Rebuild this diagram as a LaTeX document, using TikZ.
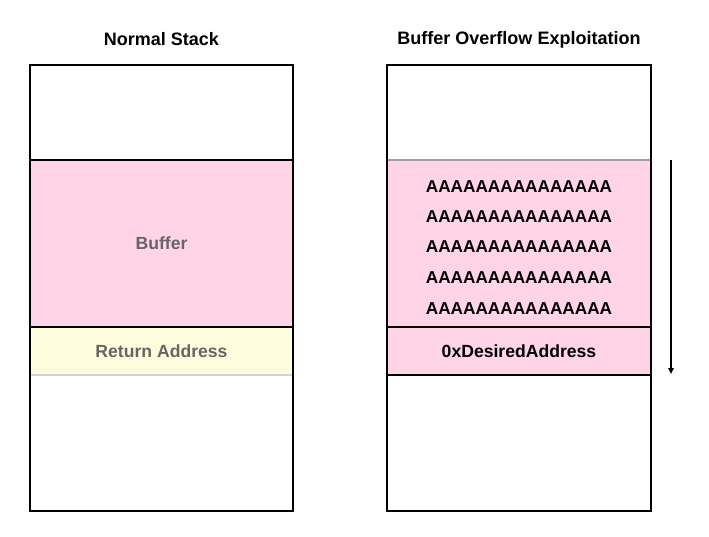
\documentclass[tikz,border=0pt]{standalone}
\usepackage{fontspec}
\setmainfont{Liberation Sans}
\usetikzlibrary{arrows.meta}
\definecolor{bufpink}{RGB}{255,212,230}
\definecolor{retyellow}{RGB}{255,251,221}
\definecolor{txtgray}{RGB}{102,102,102}
\definecolor{linegray}{RGB}{160,160,160}
\definecolor{lightgray2}{RGB}{210,210,210}
\tikzset{
  sec/.style={inner sep=0pt, outer sep=0pt, draw=none, font=\fontsize{17.6}{20}\selectfont\bfseries},
  ttl/.style={inner sep=0pt, font=\fontsize{18}{20}\selectfont\bfseries},
  aline/.style={inner sep=0pt, font=\fontsize{17.2}{20}\selectfont\bfseries},
  border/.style={line width=2pt, black},
  sep/.style={line width=2pt, black},
}
\begin{document}
\begin{tikzpicture}[x=1pt,y=-1pt]
\useasboundingbox (0,0) rectangle (709,537);
% titles
\node[ttl] (t1) at (161.5,39.5) {Normal Stack};
\node[ttl] (t2) at (519,39.5) {Buffer Overflow Exploitation};
% left stack sections
\node[sec, fill=white, minimum width=263pt, minimum height=95pt] (ltop) at (161.5,112.5) {};
\node[sec, fill=bufpink, minimum width=263pt, minimum height=167pt, text=txtgray] (lbuf) at (161.5,243.5) {Buffer};
\node[sec, fill=retyellow, minimum width=263pt, minimum height=48pt, text=txtgray] (lret) at (161.5,351) {Return Address};
\node[sec, fill=white, minimum width=263pt, minimum height=136pt] (lbot) at (161.5,443) {};
% right stack sections
\node[sec, fill=white, minimum width=264pt, minimum height=95pt] (rtop) at (519,112.5) {};
\node[sec, fill=bufpink, minimum width=264pt, minimum height=167pt] (rbuf) at (519,243.5) {};
\node[sec, fill=bufpink, minimum width=264pt, minimum height=48pt] (rret) at (519,351) {0xDesiredAddress};
\node[sec, fill=white, minimum width=264pt, minimum height=136pt] (rbot) at (519,443) {};
% A lines
\node[aline] (a1) at (519,187) {AAAAAAAAAAAAAAA};
\node[aline] (a2) at (519,217) {AAAAAAAAAAAAAAA};
\node[aline] (a3) at (519,247) {AAAAAAAAAAAAAAA};
\node[aline] (a4) at (519,278) {AAAAAAAAAAAAAAA};
\node[aline] (a5) at (519,309) {AAAAAAAAAAAAAAA};
% separators left
\draw[sep] (lbuf.north west) -- (lbuf.north east);
\draw[sep] (lret.north west) -- (lret.north east);
\draw[line width=1.5pt, lightgray2] (lbot.north west) -- (lbot.north east);
% separators right
\draw[line width=1.5pt, linegray] (rbuf.north west) -- (rbuf.north east);
\draw[sep] (rret.north west) -- (rret.north east);
\draw[sep] (rbot.north west) -- (rbot.north east);
% outer borders
\draw[border] (ltop.north west) rectangle (lbot.south east);
\draw[border] (rtop.north west) rectangle (rbot.south east);
% arrow
\coordinate (as) at (671,160);
\coordinate (ae) at (671,374);
\draw[line width=1.3pt, -{Triangle[length=6pt,width=5.5pt]}] (as) -- (ae);
\end{tikzpicture}
\end{document}
